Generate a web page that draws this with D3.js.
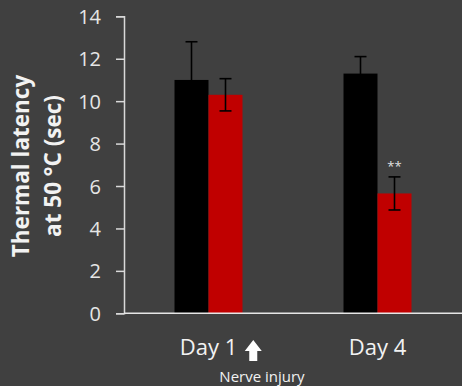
<!DOCTYPE html>
<html>
<head>
<meta charset="utf-8">
<script src="https://cdn.jsdelivr.net/npm/d3@7"></script>
<style>
  html, body { margin: 0; padding: 0; background: #404040; }
  svg { display: block; font-family: "Open Sans", sans-serif; }
</style>
</head>
<body>
<svg id="chart" width="462" height="386"></svg>
<script>
// Thermal latency (sec) per day, sham vs nerve injury
const days = ["Day 1", "Day 4"];
const groups = ["control", "injured"];
const meanControl = [11.0, 11.3];
const sdControl = [1.8, 0.8];
const meanInjured = [10.3, 5.65];
const sdInjured = [0.76, 0.78];
const yTicks = [0, 2, 4, 6, 8, 10, 12, 14];
const significance = ["", "**"];
const groupColors = ["#000000", "#c00000"];

const svg = d3.select("#chart");
const W = 462, H = 386;
const margin = { left: 124, right: 0, top: 16.3, bottom: 72.7 };

const y = d3.scaleLinear().domain([0, 14]).range([H - margin.bottom, margin.top]);
const x0 = d3.scaleBand().domain(days).range([margin.left, W - margin.right]).padding(0);
const pairW = 68;
const x1 = d3.scaleBand().domain(groups)
  .range([(x0.bandwidth() - pairW) / 2, (x0.bandwidth() + pairW) / 2]).padding(0);

const rows = [];
days.forEach((d, i) => {
  rows.push({ day: d, group: "control", mean: meanControl[i], sd: sdControl[i], color: groupColors[0] });
  rows.push({ day: d, group: "injured", mean: meanInjured[i], sd: sdInjured[i], color: groupColors[1] });
});

// y axis
const yAxis = d3.axisLeft(y).tickValues(yTicks).tickSize(8).tickPadding(15).tickFormat(d3.format("d"));
const gy = svg.append("g").attr("transform", `translate(${margin.left},0)`).call(yAxis);
gy.select(".domain").attr("stroke", "#d9d9d9").attr("stroke-width", 1.5);
gy.selectAll(".tick line").attr("stroke", "#d9d9d9").attr("stroke-width", 1.5);
gy.selectAll(".tick text").attr("fill", "#e6e6e6").style("font-size", "20px")
  .style("font-family", "'Open Sans', sans-serif").attr("dy", "0.35em");

// bars
const barG = svg.append("g");
barG.selectAll("rect").data(rows).join("rect")
  .attr("x", d => x0(d.day) + x1(d.group))
  .attr("y", d => y(d.mean))
  .attr("width", x1.bandwidth())
  .attr("height", d => y(0) - y(d.mean))
  .attr("fill", d => d.color);

// error bars
const cap = 12;
const eg = svg.append("g").attr("stroke", "#000").attr("stroke-width", 1.6).attr("fill", "none");
rows.forEach(d => {
  const cx = x0(d.day) + x1(d.group) + x1.bandwidth() / 2;
  const hi = y(d.mean + d.sd), lo = y(d.mean - d.sd);
  eg.append("line").attr("x1", cx).attr("x2", cx).attr("y1", hi).attr("y2", lo);
  eg.append("line").attr("x1", cx - cap / 2).attr("x2", cx + cap / 2).attr("y1", hi).attr("y2", hi);
  eg.append("line").attr("x1", cx - cap / 2).attr("x2", cx + cap / 2).attr("y1", lo).attr("y2", lo);
});

// significance markers above injured bars
days.forEach((d, i) => {
  if (!significance[i]) return;
  const cx = x0(d) + x1("injured") + x1.bandwidth() / 2;
  svg.append("text").attr("x", cx).attr("y", y(meanInjured[i] + sdInjured[i]) - 6)
    .attr("text-anchor", "middle").attr("fill", "#e0e0e0")
    .style("font-size", "13px").text(significance[i]);
});

// x axis line
svg.append("line").attr("x1", margin.left).attr("x2", W)
  .attr("y1", y(0)).attr("y2", y(0)).attr("stroke", "#e6e6e6").attr("stroke-width", 1.5);

// category labels
const labG = svg.append("g");
days.forEach(d => {
  const cx = x0(d) + x0.bandwidth() / 2;
  const t = labG.append("text").attr("x", cx).attr("y", 355)
    .attr("text-anchor", "middle").attr("fill", "#f2f2f2")
    .style("font-size", "22px").text(d);
  if (d === "Day 1") {
    // block arrow marking the injury
    const bb = t.node().getBBox();
    const ax = bb.x + bb.width + 16, top = 340, bottom = 361, hw = 8.5, sw = 4, hh = 11;
    svg.append("path")
      .attr("d", `M${ax},${top} L${ax + hw},${top + hh} L${ax + sw},${top + hh} L${ax + sw},${bottom} L${ax - sw},${bottom} L${ax - sw},${top + hh} L${ax - hw},${top + hh} Z`)
      .attr("fill", "#ffffff");
  }
});
svg.append("text").attr("x", 262).attr("y", 381.5).attr("text-anchor", "middle")
  .attr("fill", "#f2f2f2").style("font-size", "15px").text("Nerve injury");

// y axis title
const title = svg.append("text").attr("transform", "rotate(-90)")
  .attr("text-anchor", "middle").attr("fill", "#f2f2f2")
  .style("font-size", "22.5px").style("font-weight", "bold");
title.append("tspan").attr("x", -166).attr("y", 29.3).text("Thermal latency");
title.append("tspan").attr("x", -166).attr("y", 60.7).text("at 50 °C (sec)");
</script>
</body>
</html>
